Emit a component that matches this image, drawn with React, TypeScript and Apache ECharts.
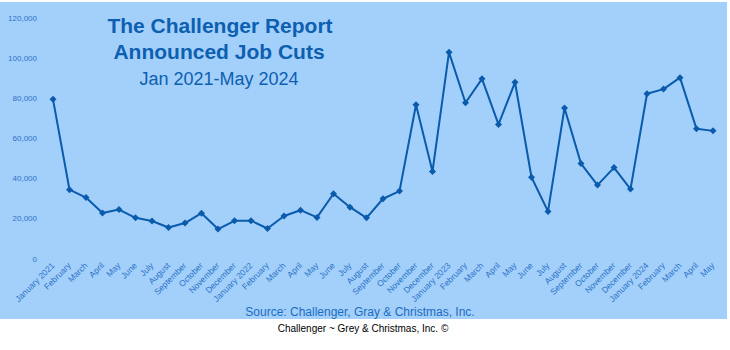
import React, { useEffect, useRef } from "react";
import * as echarts from "echarts";

const months = [
  "January 2021", "February", "March", "April", "May", "June", "July", "August", "September", "October", "November", "December",
  "January 2022", "February", "March", "April", "May", "June", "July", "August", "September", "October", "November", "December",
  "January 2023", "February", "March", "April", "May", "June", "July", "August", "September", "October", "November", "December",
  "January 2024", "February", "March", "April", "May",
];

const jobCuts = [
  79500, 34500, 30600, 22900, 24600, 20500, 18900, 15700, 17900, 22800, 14900, 19000,
  19100, 15200, 21400, 24300, 20700, 32500, 25800, 20500, 30000, 33800, 76800, 43600,
  102900, 77800, 89700, 67000, 88000, 40700, 23700, 75200, 47500, 36800, 45500, 34800,
  82300, 84600, 90300, 64800, 63800,
];

const titleLines = ["The Challenger Report", "Announced Job Cuts", "Jan 2021-May 2024"];
const sourceText = "Source: Challenger, Gray & Christmas, Inc.";
const footerText = "Challenger ~ Grey & Christmas, Inc. ©";

const yMax = 120000;
const yInterval = 20000;

export default function App() {
  const ref = useRef<HTMLDivElement>(null);

  useEffect(() => {
    if (!ref.current) return;
    const chart = echarts.init(ref.current, null, { renderer: "svg" });
    const font = "'Liberation Sans', Arial, sans-serif";
    chart.setOption({
      animation: false,
      backgroundColor: "#ffffff",
      textStyle: { fontFamily: font },
      grid: { left: 53, right: 17, top: 18, bottom: 91, containLabel: false },
      graphic: [
        {
          type: "rect",
          z: -10,
          silent: true,
          shape: { x: 0, y: 2, width: 727, height: 317 },
          style: { fill: "#a3cffb" },
        },
        {
          type: "text",
          x: 220,
          y: 36,
          style: {
            text: titleLines[0],
            fontFamily: font,
            fontSize: 21,
            fontWeight: "bold",
            fill: "#0d5fb0",
            textAlign: "center",
            textVerticalAlign: "bottom",
          },
        },
        {
          type: "text",
          x: 219,
          y: 62,
          style: {
            text: titleLines[1],
            fontFamily: font,
            fontSize: 21,
            fontWeight: "bold",
            fill: "#0d5fb0",
            textAlign: "center",
            textVerticalAlign: "bottom",
          },
        },
        {
          type: "text",
          x: 219,
          y: 88,
          style: {
            text: titleLines[2],
            fontFamily: font,
            fontSize: 18,
            fill: "#0d5fb0",
            textAlign: "center",
            textVerticalAlign: "bottom",
          },
        },
        {
          type: "text",
          x: 360,
          y: 318,
          style: {
            text: sourceText,
            fontFamily: font,
            fontSize: 12,
            fill: "#1c6dc0",
            textAlign: "center",
            textVerticalAlign: "bottom",
          },
        },
        {
          type: "text",
          x: 363,
          y: 333,
          style: {
            text: footerText,
            fontFamily: font,
            fontSize: 10,
            fill: "#000000",
            textAlign: "center",
            textVerticalAlign: "bottom",
          },
        },
      ],
      xAxis: {
        type: "category",
        data: months,
        boundaryGap: false,
        axisLine: { show: false },
        axisTick: { show: false },
        splitLine: { show: false },
        axisLabel: {
          interval: 0,
          rotate: 45,
          margin: 5,
          fontSize: 8.5,
          color: "#2b73c6",
          fontFamily: font,
        },
      },
      yAxis: {
        type: "value",
        min: 0,
        max: yMax,
        interval: yInterval,
        axisLine: { show: false },
        axisTick: { show: false },
        splitLine: { show: false },
        axisLabel: {
          margin: 16,
          fontSize: 8,
          color: "#2b73c6",
          fontFamily: font,
          formatter: (v: number) => v.toLocaleString("en-US"),
        },
      },
      series: [
        {
          type: "line",
          data: jobCuts,
          symbol: "diamond",
          symbolSize: 7,
          lineStyle: { color: "#0a5bab", width: 2 },
          itemStyle: { color: "#0a5bab" },
        },
      ],
    });
    return () => chart.dispose();
  }, []);

  return (
    <div
      ref={ref}
      style={{ position: "fixed", left: 0, top: 0, width: 730, height: 350 }}
    />
  );
}
